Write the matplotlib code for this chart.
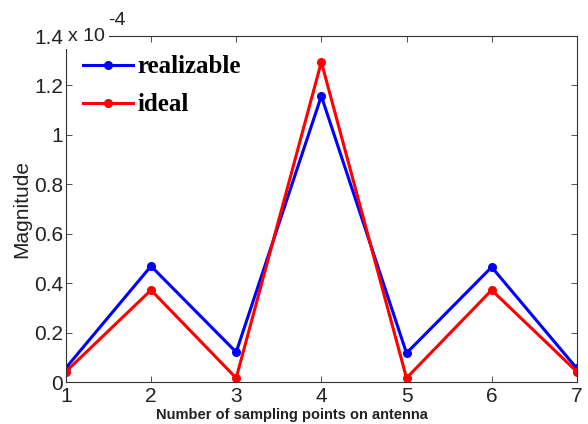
import numpy as np
import matplotlib
matplotlib.use('Agg')
import matplotlib.pyplot as plt

# values, in units of 1e-4
points = [1, 2, 3, 4, 5, 6, 7]
realizable = [0.057, 0.469, 0.121, 1.157, 0.117, 0.465, 0.055]
ideal = [0.042, 0.372, 0.016, 1.295, 0.016, 0.372, 0.042]
yticks = [0, 0.2, 0.4, 0.6, 0.8, 1, 1.2, 1.4]

plt.rcParams['font.family'] = ['Liberation Sans', 'DejaVu Sans']

fig = plt.figure(figsize=(5.88, 4.24), dpi=100)
ax = fig.add_axes([0.112, 0.099, 0.869, 0.816])

ax.plot(points, realizable, 'b-', marker='o', ms=5.5, lw=2.2, label='realizable')
ax.plot(points, ideal, 'r-', marker='o', ms=5.5, lw=2.2, label='ideal')

ax.set_xlim(1, 7)
ax.set_ylim(0, 1.4)
ax.set_xticks(points)
ax.set_yticks(yticks)
ax.set_yticklabels(['%g' % v for v in yticks])
ax.tick_params(direction='in', labelsize=15, length=4, width=0.6,
               top=True, right=True, pad=2, colors='#333333', labelcolor='#222222')
ax.tick_params(axis='x', pad=3.5)
for s in ax.spines.values():
    s.set_linewidth(0.8)
    s.set_color('#333333')

ax.set_ylabel('Magnitude', fontsize=15, labelpad=2, color='#222222')
ax.set_xlabel('Number of sampling points on antenna', fontsize=10.5,
              fontweight='bold', color='#222222')
ax.xaxis.set_label_coords(0.442, -0.076)

# offset text like matlab, sitting over the top-left corner
ax.text(1.02, 1.4, 'x 10', fontsize=14, ha='left', va='center',
        color='#222222', zorder=5, clip_on=False,
        bbox=dict(facecolor='white', edgecolor='none', pad=3))
ax.text(1.5, 1.428, '-4', fontsize=14, ha='left', va='bottom',
        color='#222222', zorder=6, clip_on=False)

leg = ax.legend(loc='upper left', frameon=False, handlelength=2.0,
                borderaxespad=0.3, labelspacing=0.6, handletextpad=0.15,
                bbox_to_anchor=(0.0, 0.995),
                prop={'family': 'Liberation Serif', 'weight': 'bold', 'size': 18})

fig.savefig('out.png', dpi=100)
